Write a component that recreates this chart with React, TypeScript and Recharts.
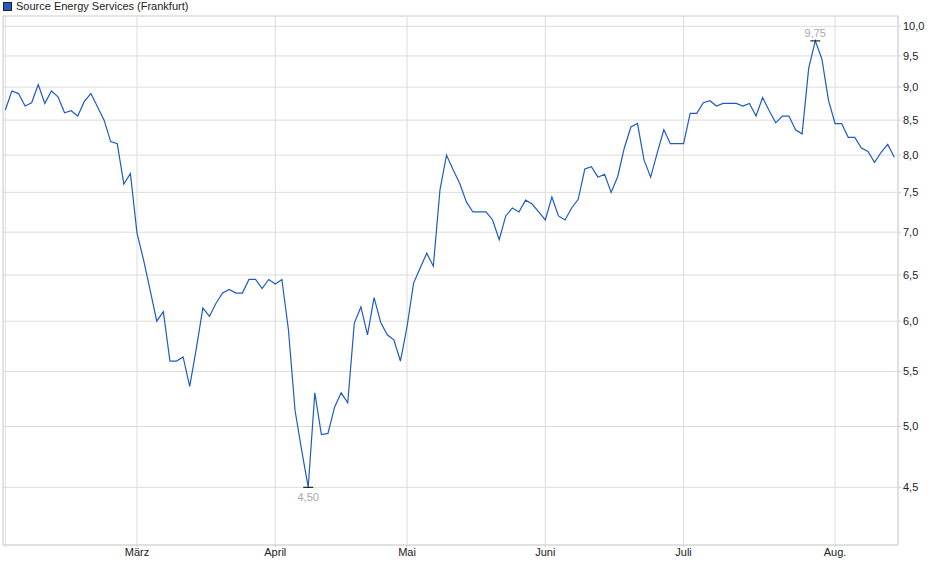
import React from "react"
import {
  LineChart,
  Line,
  XAxis,
  YAxis,
  CartesianGrid,
  ReferenceArea,
} from "recharts"

// daily closing prices (Frankfurt), one array per month
const febPrices = [8.65, 8.94, 8.9, 8.71, 8.76, 9.04, 8.75, 8.94, 8.85, 8.61, 8.64, 8.56, 8.78, 8.9, 8.7, 8.5, 8.19, 8.16, 7.61, 7.75]
const marPrices = [6.99, 6.67, 6.33, 6.0, 6.1, 5.6, 5.6, 5.64, 5.36, 5.72, 6.14, 6.05, 6.19, 6.3, 6.34, 6.3, 6.3, 6.45, 6.45, 6.35, 6.45]
const aprPrices = [6.4, 6.45, 5.91, 5.14, 4.8, 4.5, 5.3, 4.93, 4.94, 5.17, 5.3, 5.21, 5.98, 6.15, 5.86, 6.25, 5.99, 5.86, 5.81, 5.6]
const mayPrices = [5.94, 6.41, 6.58, 6.75, 6.6, 7.53, 8.0, 7.8, 7.62, 7.38, 7.25, 7.25, 7.25, 7.15, 6.91, 7.2, 7.3, 7.25, 7.4, 7.35, 7.25]
const junPrices = [7.15, 7.44, 7.2, 7.15, 7.3, 7.41, 7.81, 7.84, 7.7, 7.74, 7.5, 7.71, 8.1, 8.4, 8.45, 7.93, 7.7, 8.03, 8.36, 8.16, 8.16]
const julPrices = [8.16, 8.6, 8.6, 8.76, 8.79, 8.71, 8.75, 8.75, 8.75, 8.71, 8.75, 8.56, 8.84, 8.64, 8.46, 8.56, 8.56, 8.36, 8.3, 9.3, 9.75, 9.45, 8.8]
const augPrices = [8.45, 8.45, 8.25, 8.25, 8.1, 8.05, 7.9, 8.04, 8.15, 7.97]

const monthLabels = ["", "März", "April", "Mai", "Juni", "Juli", "Aug."]
const yTicks = [4.5, 5, 5.5, 6, 6.5, 7, 7.5, 8, 8.5, 9, 9.5, 10]

const months = [febPrices, marPrices, aprPrices, mayPrices, junPrices, julPrices, augPrices]

const monthStarts: number[] = []
let count = 0
months.forEach((m) => {
  monthStarts.push(count)
  count += m.length
})

const data = months.flat().map((price, i) => ({ i, price }))

const prices = data.map((d) => d.price)
const maxIdx = prices.indexOf(Math.max(...prices))
const minIdx = prices.indexOf(Math.min(...prices))

const FONT = "'Liberation Sans', Arial, sans-serif"
const fmt = (v: number, d: number) => v.toFixed(d).replace(".", ",")

const renderDot = (props: any) => {
  const { cx, cy, index, value } = props
  if (index === maxIdx) {
    return (
      <g key={"dot" + index}>
        <line x1={cx - 5} x2={cx + 5} y1={cy} y2={cy} stroke="#000" strokeWidth={1} />
        <text x={cx} y={cy - 4} textAnchor="middle" fontSize={11} fill="#a8a8a8" fontFamily={FONT}>
          {fmt(value, 2)}
        </text>
      </g>
    )
  }
  if (index === minIdx) {
    return (
      <g key={"dot" + index}>
        <line x1={cx - 5} x2={cx + 5} y1={cy} y2={cy} stroke="#000" strokeWidth={1} />
        <text x={cx} y={cy + 14} textAnchor="middle" fontSize={11} fill="#a8a8a8" fontFamily={FONT}>
          {fmt(value, 2)}
        </text>
      </g>
    )
  }
  return <g key={"dot" + index} />
}

const App: React.FC = () => {
  return (
    <div style={{ position: "absolute", left: 0, top: 0, width: 940, height: 579, background: "#fff", fontFamily: FONT }}>
      <div style={{ position: "absolute", left: 3, top: 0, display: "flex", alignItems: "center", fontSize: 11, color: "#222", whiteSpace: "nowrap" }}>
        <span style={{ display: "inline-block", width: 7, height: 7, background: "#1f5bc6", border: "1px solid #222", marginRight: 4 }} />
        Source Energy Services (Frankfurt)
      </div>
      <LineChart width={940} height={579} data={data} margin={{ top: 16, right: 0, bottom: 0, left: 3 }}>
        <CartesianGrid stroke="#dcdcdc" strokeWidth={1} />
        <ReferenceArea
          x1={-0.35}
          x2={135.56}
          y1={4.072}
          y2={10.18}
          fill="none"
          stroke="#dcdcdc"
          ifOverflow="visible"
        />
        <XAxis
          dataKey="i"
          type="number"
          domain={[-0.35, 135.56]}
          allowDataOverflow
          ticks={monthStarts}
          tickFormatter={(v: number) => monthLabels[monthStarts.indexOf(v)] ?? ""}
          height={34}
          tickSize={2}
          tickMargin={1}
          axisLine={{ stroke: "#dcdcdc" }}
          tickLine={{ stroke: "#cfcfcf" }}
          tick={{ fill: "#222", fontSize: 11, fontFamily: FONT }}
        />
        <YAxis
          orientation="right"
          scale="log"
          type="number"
          domain={[4.072, 10.18]}
          allowDataOverflow
          ticks={yTicks}
          tickFormatter={(v: number) => fmt(v, 1)}
          width={42}
          tickSize={3}
          tickMargin={2}
          axisLine={{ stroke: "#dcdcdc" }}
          tickLine={{ stroke: "#cfcfcf" }}
          tick={{ fill: "#222", fontSize: 11, fontFamily: FONT, textAnchor: "start" }}
        />
        <Line
          type="linear"
          dataKey="price"
          stroke="#1f5bc6"
          strokeWidth={1.2}
          dot={renderDot}
          activeDot={false}
          isAnimationActive={false}
        />
      </LineChart>
    </div>
  )
}

export default App
